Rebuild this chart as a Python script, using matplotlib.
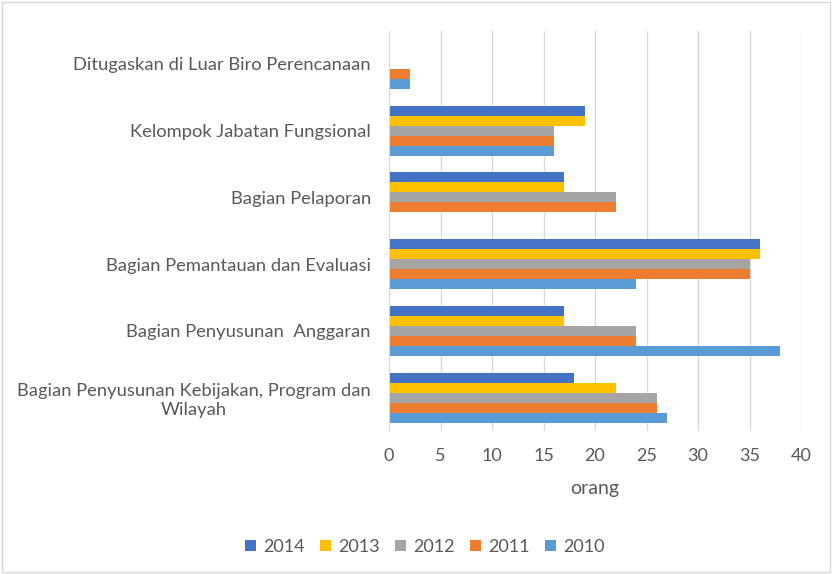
import matplotlib
matplotlib.use("Agg")
import matplotlib.pyplot as plt
import numpy as np
from matplotlib.patches import Rectangle

categories = [
    "Bagian Penyusunan Kebijakan, Program dan\nWilayah",
    "Bagian Penyusunan  Anggaran",
    "Bagian Pemantauan dan Evaluasi",
    "Bagian Pelaporan",
    "Kelompok Jabatan Fungsional",
    "Ditugaskan di Luar Biro Perencanaan",
]
years = ["2014", "2013", "2012", "2011", "2010"]
v2014 = [18, 17, 36, 17, 19, 0]
v2013 = [22, 17, 36, 17, 19, 0]
v2012 = [26, 24, 35, 22, 16, 0]
v2011 = [26, 24, 35, 22, 16, 2]
v2010 = [27, 38, 24, 0, 16, 2]
series = [v2014, v2013, v2012, v2011, v2010]
colors = ["#4472C4", "#FFC000", "#A5A5A5", "#ED7D31", "#5B9BD5"]

plt.rcParams['font.family'] = ['Lato', 'DejaVu Sans']
txt = "#595959"

fig = plt.figure(figsize=(8.32, 5.74), dpi=100)
ax = fig.add_axes([389/832, 143/574, 412/832, (431-30.5)/574])

y = np.arange(len(categories))
h = 0.15
for i, (vals, c, yr) in enumerate(zip(series, colors, years)):
    offs = (2 - i) * h
    ax.barh(y + offs, vals, height=h, color=c, label=yr, edgecolor='none')

ax.set_xlim(0, 40)
ax.set_ylim(-0.5, len(categories) - 0.5)
ax.set_xticks(range(0, 41, 5))
ax.set_yticks(y)
ax.set_yticklabels(categories, fontsize=13.2, color=txt)
ax.tick_params(axis='x', labelsize=13, colors=txt, length=0, pad=12)
ax.tick_params(axis='y', length=0, pad=13)
for lab in ax.get_yticklabels():
    lab.set_horizontalalignment('right')
    lab.set_multialignment('center')
ax.grid(axis='x', color='#d9d9d9', linewidth=1)
ax.set_axisbelow(True)
for s in ['top', 'right', 'bottom']:
    ax.spines[s].set_visible(False)
ax.spines['left'].set_color('#d9d9d9')
ax.set_xlabel("orang", fontsize=14, color=txt, labelpad=12)

ax.legend(loc='center', bbox_to_anchor=(425/832, 1 - 547/574), bbox_transform=fig.transFigure,
          ncol=5, frameon=False, fontsize=13, labelcolor=txt, handlelength=0.6, handleheight=0.6,
          handletextpad=0.4, columnspacing=0.85)

fig.patches.append(Rectangle((0.002, 0.003), 0.995, 0.994, transform=fig.transFigure,
                             fill=False, edgecolor='#d9d9d9', linewidth=1))
fig.savefig("out.png", dpi=100)
